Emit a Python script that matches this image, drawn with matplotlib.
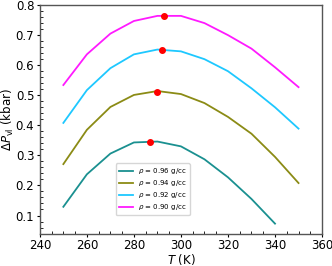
import numpy as np
import matplotlib
matplotlib.use('Agg')
import matplotlib.pyplot as plt
from matplotlib.ticker import AutoMinorLocator

T = [250, 260, 270, 280, 290, 300, 310, 320, 330, 340, 350]
p096 = [0.129, 0.237, 0.306, 0.343, 0.346, 0.330, 0.287, 0.227, 0.155, 0.073]
p094 = [0.271, 0.385, 0.461, 0.501, 0.514, 0.504, 0.474, 0.428, 0.372, 0.295, 0.208]
p092 = [0.408, 0.517, 0.590, 0.636, 0.652, 0.646, 0.620, 0.580, 0.523, 0.460, 0.389]
p090 = [0.534, 0.636, 0.705, 0.747, 0.764, 0.764, 0.740, 0.700, 0.655, 0.593, 0.527]

# maxima (red dots)
max_T = [286.8, 290.0, 292.0, 292.8]
max_P = [0.343, 0.512, 0.650, 0.765]

labels = [r'$\rho$ = 0.96 g/cc', r'$\rho$ = 0.94 g/cc', r'$\rho$ = 0.92 g/cc', r'$\rho$ = 0.90 g/cc']
colors = ['#1a9090', '#8b8b15', '#1ec8ff', '#ff1aff']

fig = plt.figure(figsize=(3.32, 2.66), dpi=100)
ax = fig.add_axes([0.12, 0.122, 0.85, 0.859])

series = [p096, p094, p092, p090]
for s, lab, c in zip(series, labels, colors):
    ax.plot(T[:len(s)], s, color=c, lw=1.3, label=lab)
ax.plot(max_T, max_P, 'o', color='red', ms=4, zorder=5)

ax.set_xlim(240, 360)
ax.set_ylim(0.04, 0.8)
ax.set_xticks([240, 260, 280, 300, 320, 340, 360])
ax.set_yticks([0.1, 0.2, 0.3, 0.4, 0.5, 0.6, 0.7, 0.8])
ax.xaxis.set_minor_locator(AutoMinorLocator(4))
ax.yaxis.set_minor_locator(AutoMinorLocator(5))
ax.tick_params(labelsize=8.5, length=2.5, width=0.8, pad=1.5, direction='out')
ax.tick_params(which='minor', length=2, width=0.6, direction='in')
for sp in ax.spines.values():
    sp.set_color('#555555')
    sp.set_linewidth(1.0)

ax.set_xlabel(r'$T$ (K)', fontsize=8.5, labelpad=0)
ax.set_ylabel(r'$\Delta P_{\rm vl}$ (kbar)', fontsize=8.5, labelpad=0)

ax.legend(loc='lower center', bbox_to_anchor=(0.40, 0.065), fontsize=5, frameon=True,
          handlelength=2.0, labelspacing=0.3, borderpad=0.4, handletextpad=0.8)

fig.savefig('out.png', dpi=100)
